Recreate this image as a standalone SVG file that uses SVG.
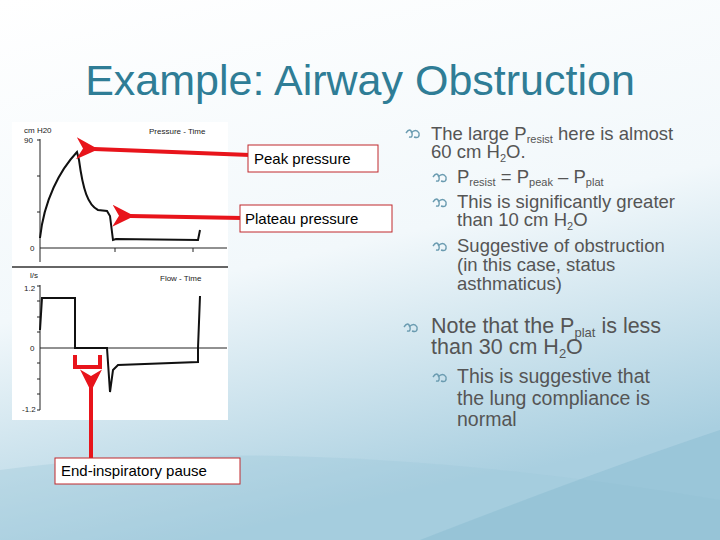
<svg xmlns="http://www.w3.org/2000/svg" width="720" height="540" viewBox="0 0 720 540">
<defs>
<linearGradient id="bg" x1="0" y1="0" x2="0.3" y2="1">
<stop offset="0" stop-color="#ffffff"/><stop offset="0.55" stop-color="#f2f8fb"/><stop offset="1" stop-color="#a9cfe0"/>
</linearGradient>
<marker id="ah" viewBox="0 0 10 10" refX="2" refY="5" markerWidth="5.5" markerHeight="5.5" orient="auto"><path d="M10,0 L0,5 L10,10 L7,5 Z" fill="#e8141b"/></marker>
<style>
.t{font-family:"Liberation Sans",Arial,sans-serif;fill:#555}
.ax{stroke:#222;stroke-width:1;fill:none}
.cv{stroke:#111;stroke-width:2;fill:none}
.sm{font-family:"Liberation Sans",Arial,sans-serif;font-size:8px;fill:#222}
.red{stroke:#e8141b;stroke-width:4;fill:none}
.box{fill:#fff;stroke:#c0282d;stroke-width:1}
.lb{font-family:"Liberation Sans",Arial,sans-serif;font-size:15px;fill:#000}
.bl{fill:none;stroke:#6a9bb0;stroke-width:1.4}
</style>
<g id="bul"><path class="bl" d="M0,-3 q4,-6 6,0 q1,5 -3,4 M5,-3 q5,-5 8,0 q1,6 -5,4"/></g>
</defs>
<rect width="720" height="540" fill="url(#bg)"/>
<path d="M0,540 L0,470 Q300,430 720,500 L720,540 Z" fill="#9fc8da" opacity="0.35"/>
<path d="M420,540 Q600,470 720,430 L720,540 Z" fill="#7fb4cc" opacity="0.35"/>
<text x="360" y="95" text-anchor="middle" style="font-family:'Liberation Sans',Arial,sans-serif;font-size:43px;fill:#2f7d96">Example: Airway Obstruction</text>
<g id="chart">
<rect x="12" y="122" width="216" height="298" fill="#fff"/>
<line x1="12" y1="267" x2="228" y2="267" stroke="#333" stroke-width="1.5"/>
<text class="sm" x="24" y="133">cm H20</text><text class="sm" x="24" y="143">90</text><text class="sm" x="30" y="251">0</text>
<text class="sm" x="149" y="134">Pressure - Time</text>
<path class="ax" d="M40,139 V262 M37,140 H40 M37,176 H40 M37,212 H40 M40,248 H227 M115,248 v4 M193,248 v4"/>
<path class="cv" d="M40,238 C44,200 60,170 77,152 L79,160 C83,190 88,205 98,210 L107,211 L110,216 L113,240 L116,239 L198,240 L200,230"/>
<text class="sm" x="30" y="278">l/s</text><text class="sm" x="24" y="291">1.2</text><text class="sm" x="30" y="351">0</text><text class="sm" x="22" y="412">-1.2</text>
<text class="sm" x="160" y="281">Flow - Time</text>
<path class="ax" d="M40,285 V410 M37,286 H40 M37,301 H40 M37,317 H40 M37,332 H40 M37,363 H40 M37,379 H40 M37,394 H40 M37,410 H40 M40,348 H227"/>
<path class="cv" d="M40,330 L42,298 L75,298 L75,348 L107,348 L110,392 L113,370 L118,365 L198,362 L198,348 L200,296"/>
</g>
<g id="peak"><line class="red" x1="250" y1="155" x2="94" y2="149" marker-end="url(#ah)"/><rect class="box" x="248" y="145" width="130" height="27"/><text class="lb" x="254" y="164">Peak pressure</text></g>
<g id="plateau"><line class="red" x1="242" y1="218" x2="130" y2="216" marker-end="url(#ah)"/><rect class="box" x="240" y="205" width="152" height="27"/><text class="lb" x="245" y="224">Plateau pressure</text></g>
<g id="pause"><path class="red" d="M75,355 V367 H100 V355"/><line class="red" x1="91" y1="460" x2="91" y2="387" marker-end="url(#ah)"/><rect class="box" x="55" y="458" width="185" height="26"/><text class="lb" x="61" y="476">End-inspiratory pause</text></g>
<g class="t" font-size="18.5">
<use href="#bul" x="406" y="136"/>
<text x="431" y="140">The large P<tspan font-size="11" dy="3">resist</tspan><tspan dy="-3"> here is almost</tspan></text>
<text x="431" y="158">60 cm H<tspan font-size="11" dy="4">2</tspan><tspan dy="-4">O.</tspan></text>
<use href="#bul" x="433" y="180"/>
<text x="457" y="183">P<tspan font-size="11" dy="3">resist</tspan><tspan dy="-3"> = P</tspan><tspan font-size="11" dy="3">peak</tspan><tspan dy="-3"> – P</tspan><tspan font-size="11" dy="3">plat</tspan></text>
<use href="#bul" x="433" y="205"/>
<text x="457" y="208">This is significantly greater</text>
<text x="457" y="226">than 10 cm H<tspan font-size="11" dy="4">2</tspan><tspan dy="-4">O</tspan></text>
<use href="#bul" x="433" y="249"/>
<text x="457" y="252">Suggestive of obstruction</text>
<text x="457" y="271">(in this case, status</text>
<text x="457" y="290">asthmaticus)</text>
<use href="#bul" x="404" y="330"/>
<text x="431" y="333" font-size="21.5">Note that the P<tspan font-size="13" dy="4">plat</tspan><tspan dy="-4"> is less</tspan></text>
<text x="431" y="354" font-size="21.5">than 30 cm H<tspan font-size="13" dy="4">2</tspan><tspan dy="-4">O</tspan></text>
<use href="#bul" x="433" y="380"/>
<text x="457" y="383" font-size="19.5">This is suggestive that</text>
<text x="457" y="405" font-size="19.5">the lung compliance is</text>
<text x="457" y="426" font-size="19.5">normal</text>
</g>
</svg>
